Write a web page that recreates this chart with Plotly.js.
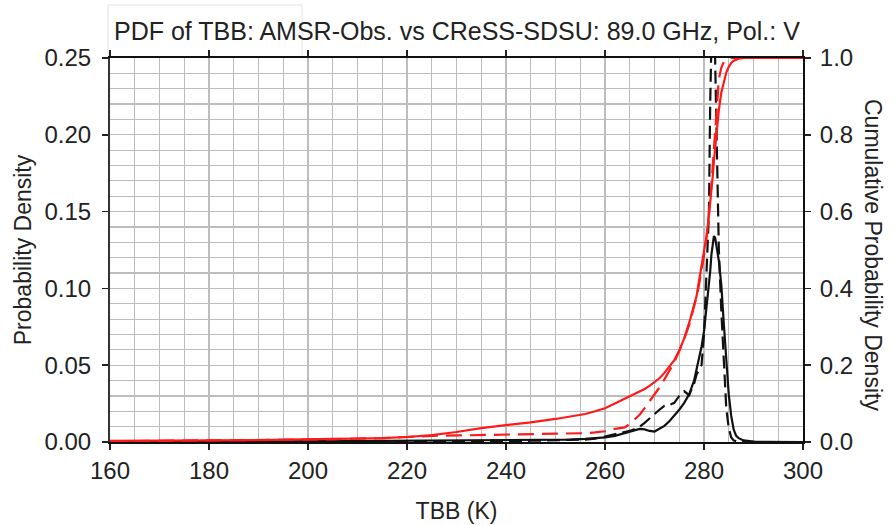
<!DOCTYPE html>
<html>
<head>
<meta charset="utf-8">
<script src="https://cdn.plot.ly/plotly-3.0.1.min.js"></script>
<style>html,body{margin:0;padding:0;background:#fff;}#chart{width:895px;height:525px;}</style>
</head>
<body>
<div id="chart"></div>
<script>
// Brightness temperature grid (K)
const tbb = [160,170,180,190,200,205,210,215,220,225,230,235,240,245,250,253,256,258,260,262,264,265,266,267,268,269,270,271,272,273,274,275,276,277,278,278.5,279,279.5,280,280.5,281,281.25,281.5,281.75,282,282.25,282.5,282.75,283,283.5,284,284.5,285,285.5,286,286.5,287,288,289,290,292,295,300];

// PDF, AMSR observation (black solid, left axis)
const pdfObs = [0.0002,0.0002,0.0002,0.0003,0.0004,0.0005,0.0006,0.0007,0.0008,0.0008,0.0009,0.0010,0.0011,0.0012,0.0014,0.0016,0.0020,0.0024,0.0030,0.0040,0.0058,0.0066,0.0072,0.0085,0.0082,0.0072,0.0068,0.0085,0.0105,0.0135,0.0170,0.0210,0.0255,0.0310,0.0400,0.0470,0.0540,0.0620,0.0720,0.0860,0.1020,0.1110,0.1220,0.1300,0.1340,0.1330,0.1290,0.1230,0.1180,0.1020,0.0770,0.0530,0.0310,0.0170,0.0080,0.0040,0.0025,0.0010,0.0005,0.0002,0.0001,0,0];

// PDF, CReSS-SDSU simulation (black dashed, left axis)
const pdfSim = [0.0001,0.0001,0.0001,0.0002,0.0003,0.0002,0.0004,0.0003,0.0005,0.0004,0.0006,0.0005,0.0007,0.0008,0.0010,0.0012,0.0016,0.0022,0.0035,0.0050,0.0065,0.0072,0.0085,0.0100,0.0125,0.0155,0.0180,0.0210,0.0235,0.0240,0.0255,0.0300,0.0330,0.0305,0.0380,0.0440,0.0470,0.0500,0.0700,0.1050,0.1500,0.2200,0.2800,0.3000,0.2900,0.2500,0.2050,0.1650,0.1250,0.0850,0.0500,0.0220,0.0090,0.0030,0.0010,0.0004,0.0002,0.0001,0,0,0,0,0];

// CDF, AMSR observation (red solid, right axis)
const cdfObs = [0.003,0.003,0.004,0.005,0.006,0.008,0.009,0.010,0.013,0.018,0.026,0.036,0.044,0.051,0.060,0.066,0.073,0.080,0.088,0.100,0.112,0.118,0.124,0.130,0.138,0.146,0.156,0.166,0.180,0.195,0.213,0.238,0.270,0.310,0.355,0.380,0.420,0.460,0.500,0.535,0.590,0.620,0.650,0.690,0.730,0.765,0.800,0.835,0.865,0.910,0.940,0.962,0.977,0.987,0.993,0.996,0.998,1.0,1.0,1.0,1.0,1.0,1.0];

// CDF, CReSS-SDSU simulation (red dashed, right axis)
const cdfSim = [0.002,0.003,0.004,0.005,0.006,0.007,0.009,0.010,0.013,0.016,0.017,0.018,0.018,0.019,0.020,0.021,0.023,0.025,0.028,0.034,0.038,0.047,0.058,0.071,0.088,0.105,0.122,0.142,0.163,0.185,0.208,0.237,0.268,0.305,0.350,0.378,0.410,0.445,0.485,0.530,0.590,0.630,0.670,0.720,0.770,0.820,0.870,0.910,0.945,0.975,0.990,0.996,0.999,1.0,1.0,1.0,1.0,1.0,1.0,1.0,1.0,1.0,1.0];

const xTicks = [160,180,200,220,240,260,280,300];
const titleText = 'PDF of TBB: AMSR-Obs. vs CReSS-SDSU: 89.0 GHz, Pol.: V';

const FONT = 'Liberation Sans, Arial, Helvetica, sans-serif';
const TXT = '#222';
const GRID = '#bdbdbd';

const traces = [
  {x: tbb, y: cdfObs, yaxis: 'y2', mode: 'lines', line: {color: '#ff1a1a', width: 2.2}, name: 'CDF Obs'},
  {x: tbb, y: cdfSim, yaxis: 'y2', mode: 'lines', line: {color: '#ff1a1a', width: 2.2, dash: '16px,8px'}, name: 'CDF Sim'},
  {x: tbb, y: pdfObs, mode: 'lines', line: {color: '#111', width: 2.2}, name: 'PDF Obs'},
  {x: tbb, y: pdfSim, mode: 'lines', line: {color: '#111', width: 2.2, dash: '13px,6px'}, name: 'PDF Sim'}
];

const layout = {
  width: 895, height: 525,
  margin: {l: 110, r: 92, t: 58, b: 83},
  paper_bgcolor: '#fff', plot_bgcolor: '#fff',
  showlegend: false,
  font: {family: FONT, size: 23, color: TXT},
  title: {text: titleText, font: {family: FONT, size: 25, color: TXT},
          xref: 'container', yref: 'container', x: 114/895, xanchor: 'left', y: 1 - 31/525, yanchor: 'middle'},
  xaxis: {
    range: [160, 300], tickvals: xTicks, ticktext: xTicks.map(String),
    ticks: 'outside', ticklen: 6, tickwidth: 1.5, tickcolor: '#222',
    showline: true, linecolor: '#111', linewidth: 2, mirror: 'ticks',
    showgrid: true, gridcolor: GRID, gridwidth: 1.2,
    minor: {dtick: 5, tick0: 160, showgrid: true, gridcolor: GRID, gridwidth: 1.2},
    zeroline: false,
    tickfont: {size: 24, color: TXT},
    title: {text: 'TBB (K)', font: {size: 23, color: TXT}, standoff: 20}
  },
  yaxis: {
    range: [0, 0.25], dtick: 0.05, tick0: 0, tickformat: '.2f',
    ticks: 'outside', ticklen: 6, tickwidth: 1.5, tickcolor: '#222',
    showline: true, linecolor: '#333', linewidth: 2, mirror: true,
    showgrid: true, gridcolor: GRID, gridwidth: 1.2,
    minor: {dtick: 0.01, tick0: 0, showgrid: true, gridcolor: GRID, gridwidth: 1.2},
    zeroline: false,
    tickfont: {size: 24, color: TXT},
    ticklabelstandoff: 6,
    title: {text: 'Probability Density', font: {size: 23, color: TXT}, standoff: 6}
  },
  yaxis2: {
    overlaying: 'y', side: 'right', range: [0, 1], dtick: 0.2, tick0: 0, tickformat: '.1f',
    ticks: 'outside', ticklen: 6, tickwidth: 1.5, tickcolor: '#222',
    showline: true, linecolor: '#111', linewidth: 2,
    showgrid: false, zeroline: false,
    tickfont: {size: 24, color: TXT},
    ticklabelstandoff: 4
  },
  shapes: [
    {type: 'rect', xref: 'paper', yref: 'paper', x0: (108-110)/693, x1: (302-110)/693,
     y0: 1 + 1/384, y1: 1 + 53/384, line: {color: '#e2e2e2', width: 1}, fillcolor: 'rgba(0,0,0,0)', layer: 'below'}
  ],
  annotations: [
    {text: 'Cumulative Probability Density', xref: 'paper', yref: 'paper',
     x: (873-110)/693, y: (442-255)/384, xanchor: 'center', yanchor: 'middle',
     textangle: 90, showarrow: false, font: {size: 23, color: TXT}}
  ]
};

Plotly.newPlot('chart', traces, layout, {staticPlot: true, displayModeBar: false});
</script>
</body>
</html>
